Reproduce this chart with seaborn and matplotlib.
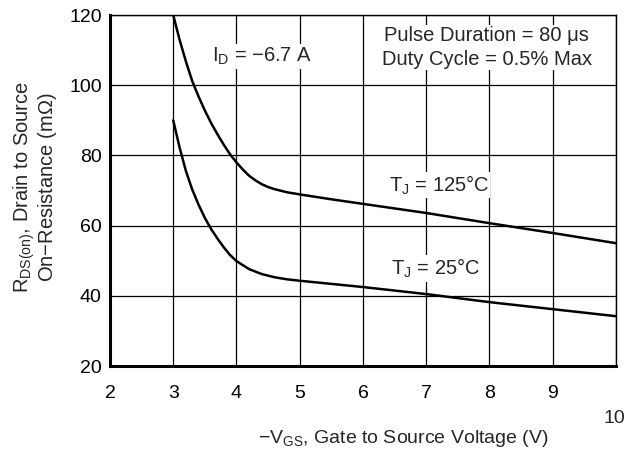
import numpy as np
import pandas as pd
import matplotlib
matplotlib.use('Agg')
import matplotlib.pyplot as plt
import seaborn as sns

# values
vgs_125 = [3.0, 3.1, 3.2, 3.3, 3.4, 3.5, 3.6, 3.7, 3.8, 3.9, 4.0, 4.1, 4.2, 4.3, 4.4, 4.5, 4.6, 4.8, 5.0, 5.5, 6.0, 7.0, 8.0, 9.0, 10.0]
rds_125 = [120, 113, 106.8, 101.2, 96.8, 92.8, 89.2, 86.0, 83.0, 80.3, 78.0, 76.0, 74.2, 72.9, 71.8, 71.0, 70.4, 69.5, 68.9, 67.5, 66.2, 63.6, 60.7, 57.9, 55.0]
vgs_25 = [3.0, 3.1, 3.2, 3.3, 3.4, 3.5, 3.6, 3.7, 3.8, 3.9, 4.0, 4.2, 4.4, 4.6, 4.8, 5.0, 5.5, 6.0, 7.0, 8.0, 9.0, 10.0]
rds_25 = [90, 82.3, 75.6, 70.3, 66.0, 62.2, 59.0, 56.3, 53.8, 51.6, 49.9, 47.6, 46.2, 45.3, 44.7, 44.3, 43.4, 42.5, 40.5, 38.2, 36.2, 34.2]

x_ticks = [2, 3, 4, 5, 6, 7, 8, 9, 10]
y_ticks = [20, 40, 60, 80, 100, 120]

df = pd.concat([
    pd.DataFrame({'vgs': vgs_125, 'rds': rds_125, 'tj': '125'}),
    pd.DataFrame({'vgs': vgs_25, 'rds': rds_25, 'tj': '25'}),
])

sns.set_style('white')
plt.rcParams['font.family'] = ['Liberation Sans', 'DejaVu Sans']
plt.rcParams['mathtext.default'] = 'regular'

fig = plt.figure(figsize=(6.35, 4.53), dpi=100)
ax = fig.add_axes([0.1732, 0.192, 0.7968, 0.7748])

sns.lineplot(data=df, x='vgs', y='rds', hue='tj', units='tj', estimator=None,
             palette=['black', 'black'], linewidth=1.8, legend=False, ax=ax, zorder=3)

ax.set_xlim(2, 10)
ax.set_ylim(20, 120)
ax.set_xticks(x_ticks)
ax.set_xticklabels([str(t) for t in x_ticks[:-1]] + [''])
ax.set_yticks(y_ticks)
ax.tick_params(length=0, labelsize=14, colors='black')
ax.tick_params(axis='x', pad=14)
ax.tick_params(axis='y', pad=6)
ax.grid(True, color='black', linewidth=0.9)
for side in ['top', 'right']:
    ax.spines[side].set_linewidth(1.0)
for side in ['left', 'bottom']:
    ax.spines[side].set_linewidth(2.2)
for s in ax.spines.values():
    s.set_color('black')
    s.set_zorder(4)

# the odd "10" label sits lower than the others
ax.text(9.98, -0.15, '10', transform=ax.get_xaxis_transform(), ha='center', va='center', fontsize=14)

ax.set_xlabel('$-V_{GS}$, Gate to Source Voltage (V)', fontsize=14)
ax.xaxis.set_label_coords(0.579, -0.177)
ax.set_ylabel('$R_{DS(on)}$, Drain to Source\nOn$-$Resistance (m$\\Omega$)', fontsize=14.5,
              linespacing=0.95, va='center')
ax.yaxis.set_label_coords(-0.148, 0.51)

box = dict(facecolor='white', edgecolor='none', pad=1)
ax.text(4.4, 108.2, '$I_D$ = $-$6.7 A', ha='center', va='center', fontsize=14.5, bbox=box, zorder=5)
ax.text(7.96, 110.7, 'Pulse Duration = 80 \u03bcs\nDuty Cycle = 0.5% Max', ha='center', va='center',
        fontsize=14.5, linespacing=1.3, bbox=box, zorder=5)
ax.text(7.2, 71.6, '$T_J$ = 125\u00b0C', ha='center', va='center', fontsize=14.5, bbox=box, zorder=5)
ax.text(7.15, 47.8, '$T_J$ = 25\u00b0C', ha='center', va='center', fontsize=14.5, bbox=box, zorder=5)

fig.savefig('out.png', dpi=100)
